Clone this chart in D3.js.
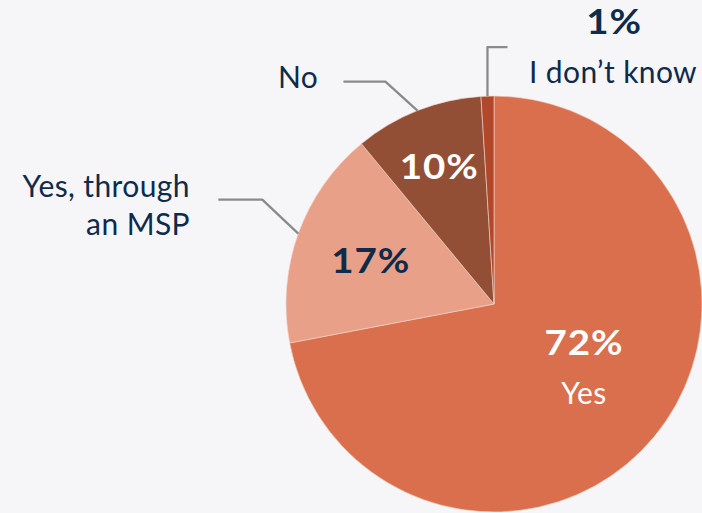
<!DOCTYPE html>
<html>
<head>
<meta charset="utf-8">
<script src="https://cdn.jsdelivr.net/npm/d3@7"></script>
<style>
  html, body { margin: 0; padding: 0; background: #f6f6f9; }
  svg { display: block; }
  text { font-family: Lato, "Open Sans", sans-serif; }
  .pct { font-size: 35px; font-weight: 700; letter-spacing: 0.8px; }
  .lbl { font-size: 30px; font-weight: 400; letter-spacing: 0.4px; }
</style>
</head>
<body>
<svg id="chart" width="702" height="513"></svg>
<script>
// Survey answers, clockwise from 12 o'clock
const categories = ["Yes", "Yes, through an MSP", "No", "I don\u2019t know"];
const shares = [72, 17, 10, 1];
const sliceColors = ["#d96f4c", "#e8a088", "#934e36", "#b1482a"];

const width = 702, height = 513;
const cx = 494, cy = 304, radius = 208;
const navy = "#0e2b4b";
const pctStretch = 1.1;   // widen the bold figures a little

const svg = d3.select("#chart");
svg.append("rect").attr("width", width).attr("height", height).attr("fill", "#f6f6f9");

const g = svg.append("g").attr("transform", `translate(${cx},${cy})`);

const pie = d3.pie().sort(null).value(d => d.value);
const arcs = pie(categories.map((c, i) => ({ name: c, value: shares[i], color: sliceColors[i] })));
const arc = d3.arc().innerRadius(0).outerRadius(radius);

g.selectAll("path.slice")
  .data(arcs)
  .join("path")
  .attr("class", "slice")
  .attr("d", arc)
  .attr("fill", d => d.data.color)
  .attr("stroke", "#f3d6cc")
  .attr("stroke-width", 0.6);

// point at radius r along the middle of a slice
function rimPoint(d, r) {
  const a = (d.startAngle + d.endAngle) / 2;
  return [r * Math.sin(a), -r * Math.cos(a)];
}

// bold percentage text, centred on (x, y)
function pctText(x, y, value, color, baseline) {
  g.append("text")
    .attr("class", "pct")
    .attr("transform", `translate(${x},${y}) scale(${pctStretch},1)`)
    .attr("text-anchor", "middle")
    .attr("dominant-baseline", baseline || "central")
    .attr("fill", color)
    .text(value + "%");
}

// Percent labels inside the slices
const pctLayout = [
  { dx: 90, dy: 38, color: "#ffffff" },
  { r: 131, color: navy },
  { r: 149, color: "#ffffff" },
  null
];

arcs.forEach((d, i) => {
  const L = pctLayout[i];
  if (!L) return;
  const p = L.r ? rimPoint(d, L.r) : [L.dx, L.dy];
  pctText(p[0], p[1], d.value, L.color);
});

// "Yes" name under its percentage
g.append("text")
  .attr("class", "lbl")
  .attr("x", 90).attr("y", 100)
  .attr("text-anchor", "middle")
  .attr("fill", "#ffffff")
  .text(categories[0]);

// Leader lines for the outside labels
const lineColor = "#8a8a8a";
function leader(d, steps) {
  const start = rimPoint(d, radius);
  const path = d3.path();
  path.moveTo(start[0], start[1]);
  let cur = start;
  steps.forEach(s => {
    cur = [cur[0] + s[0], cur[1] + s[1]];
    path.lineTo(cur[0], cur[1]);
  });
  g.append("path")
    .attr("d", path.toString())
    .attr("fill", "none")
    .attr("stroke", lineColor)
    .attr("stroke-width", 2.3)
    .attr("stroke-linejoin", "round");
  return cur;
}

leader(arcs[1], [[-36, -34], [-44, 0]]);   // Yes, through an MSP
leader(arcs[2], [[-32, -29], [-42, 0]]);   // No
leader(arcs[3], [[0, -49], [20, 0]]);      // I don't know

// Outside label text
g.append("text")
  .attr("class", "lbl")
  .attr("x", 190 - cx).attr("y", 197 - cy)
  .attr("text-anchor", "end").attr("fill", navy)
  .text("Yes, through");
g.append("text")
  .attr("class", "lbl")
  .attr("x", 190 - cx).attr("y", 235 - cy)
  .attr("text-anchor", "end").attr("fill", navy)
  .text("an MSP");

g.append("text")
  .attr("class", "lbl")
  .attr("x", 278 - cx).attr("y", 88 - cy)
  .attr("text-anchor", "start").attr("fill", navy)
  .text(categories[2]);

pctText(614 - cx, 34 - cy, shares[3], navy, "alphabetic");
g.append("text")
  .attr("class", "lbl")
  .attr("x", 613 - cx).attr("y", 83 - cy)
  .attr("text-anchor", "middle").attr("fill", navy)
  .text(categories[3]);
</script>
</body>
</html>
